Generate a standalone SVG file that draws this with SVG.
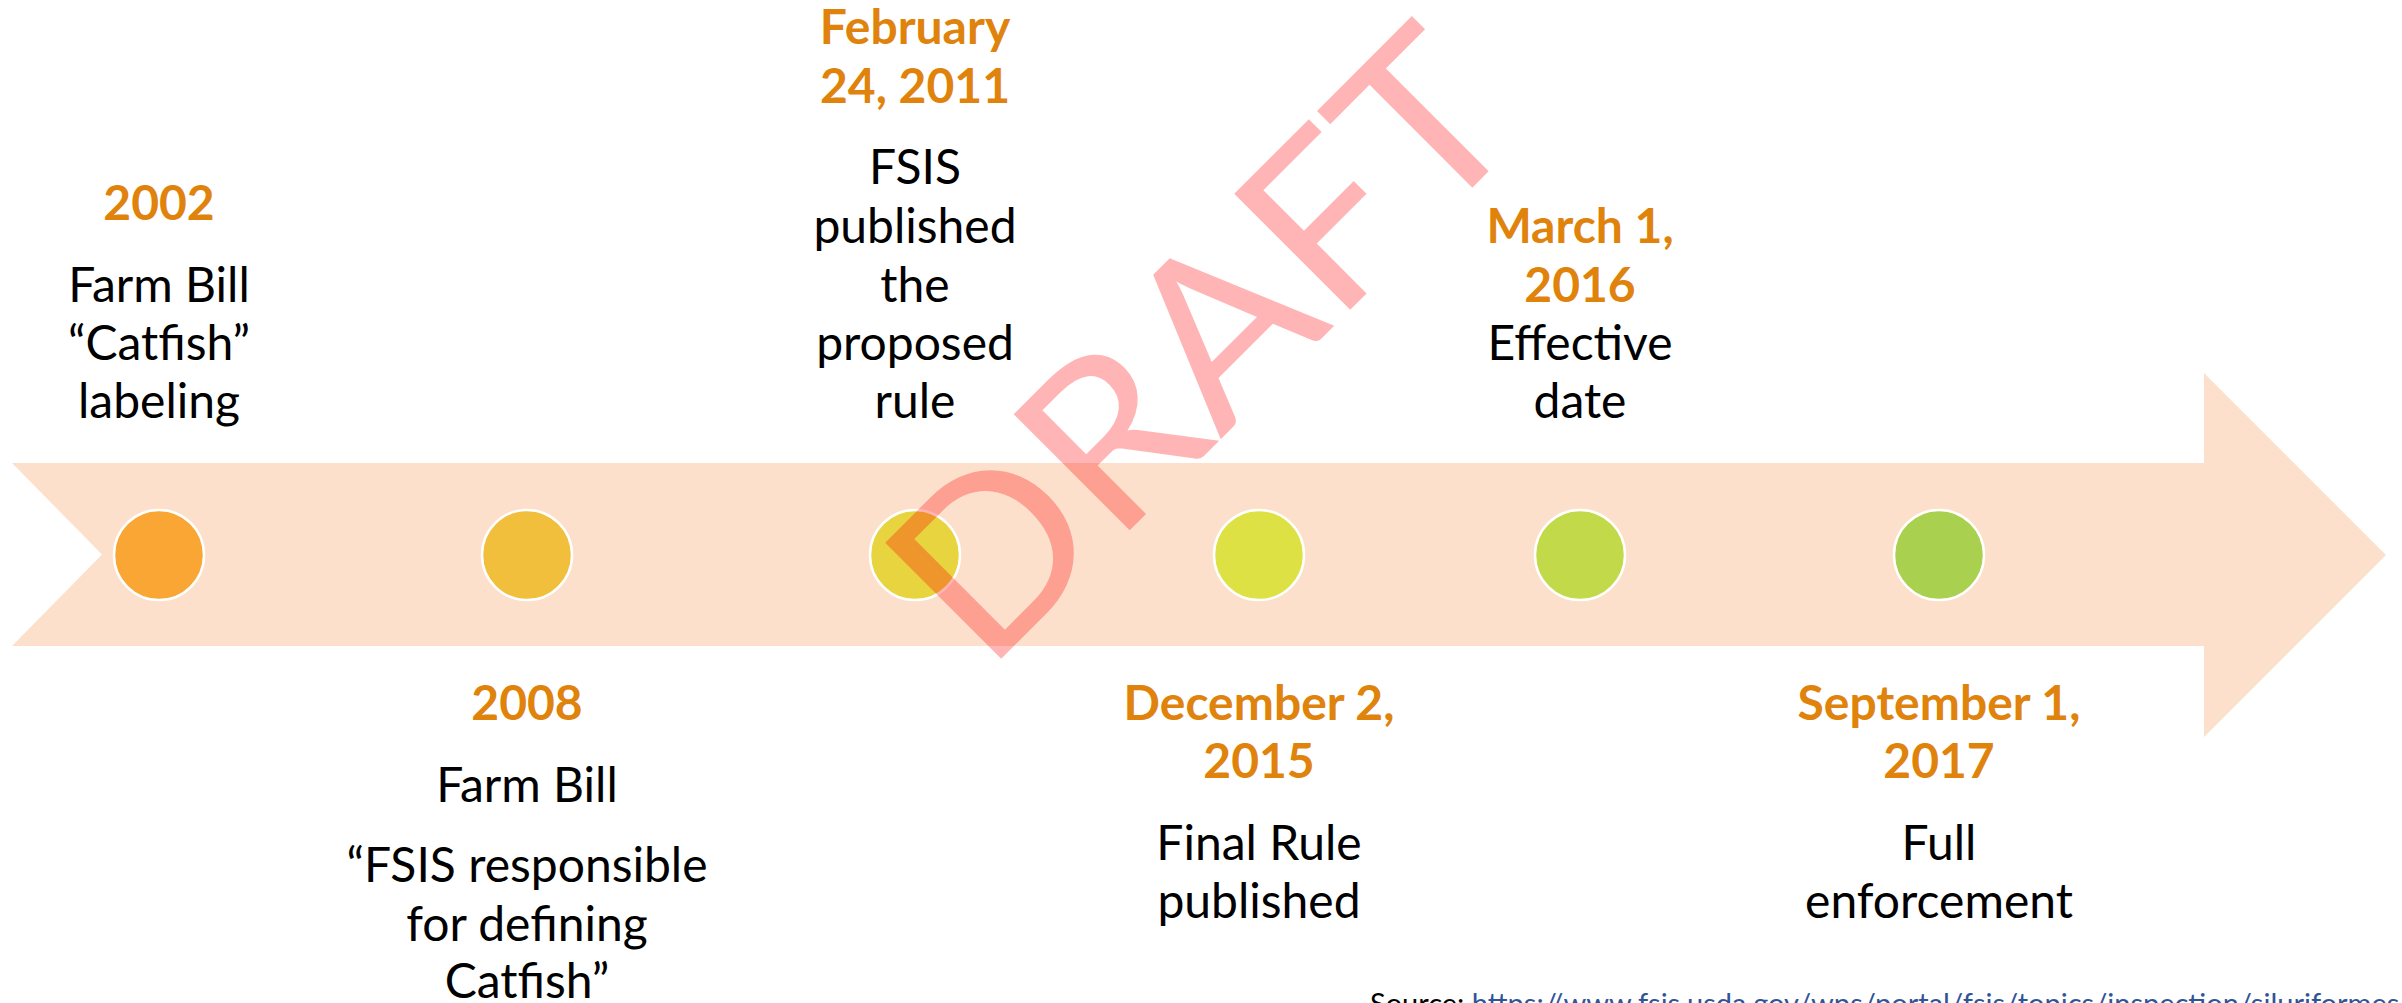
<svg xmlns="http://www.w3.org/2000/svg" width="2402" height="1003" viewBox="0 0 2402 1003">
<style>
.t{font-family:Lato,"Liberation Sans",sans-serif;font-size:48px;text-anchor:middle;fill:#000}
.d{font-family:Lato,"Liberation Sans",sans-serif;font-size:48px;font-weight:bold;text-anchor:middle;fill:#E0830D}
.dot{stroke:#FFFFFF;stroke-width:2.5}
.wm{font-family:Lato,"Liberation Sans",sans-serif;font-weight:normal;font-size:229px;text-anchor:middle;fill:#FF0000;fill-opacity:0.29}
.src{font-family:Lato,"Liberation Sans",sans-serif;font-size:29px}
</style>
<rect width="2402" height="1003" fill="#FFFFFF"/>
<g id="timeline">
<polygon points="12,463 2204,463 2204,373 2386,555 2204,737 2204,646 12,646 102,554.5" fill="#FCE0CC"/>
</g>
<g id="connectors"></g>
<g id="node-2002">
<circle class="dot" cx="159" cy="555" r="45" fill="#F9A634"/>
<text class="d" x="159" y="220">2002</text>
<text class="t" x="159" y="302">Farm Bill</text>
<text class="t" x="159" y="360">“Catfish”</text>
<text class="t" x="159" y="418">labeling</text>
</g>
<g id="node-2008">
<circle class="dot" cx="527" cy="555" r="45" fill="#F1BF3B"/>
<text class="d" x="527" y="720">2008</text>
<text class="t" x="527" y="802">Farm Bill</text>
<text class="t" x="527" y="882">“FSIS responsible</text>
<text class="t" x="527" y="941">for defining</text>
<text class="t" x="527" y="998">Catfish”</text>
</g>
<g id="node-2011">
<circle class="dot" cx="915" cy="555" r="45" fill="#E8D43F"/>
<text class="d" x="915" y="44">February</text>
<text class="d" x="915" y="103">24, 2011</text>
<text class="t" x="915" y="184">FSIS</text>
<text class="t" x="915" y="243">published</text>
<text class="t" x="915" y="302">the</text>
<text class="t" x="915" y="360">proposed</text>
<text class="t" x="915" y="418">rule</text>
</g>
<g id="node-2015">
<circle class="dot" cx="1259" cy="555" r="45" fill="#DEE144"/>
<text class="d" x="1259" y="720">December 2,</text>
<text class="d" x="1259" y="778">2015</text>
<text class="t" x="1259" y="860">Final Rule</text>
<text class="t" x="1259" y="918">published</text>
</g>
<g id="node-2016">
<circle class="dot" cx="1580" cy="555" r="45" fill="#C2D94A"/>
<text class="d" x="1580" y="243">March 1,</text>
<text class="d" x="1580" y="302">2016</text>
<text class="t" x="1580" y="360">Effective</text>
<text class="t" x="1580" y="418">date</text>
</g>
<g id="node-2017">
<circle class="dot" cx="1939" cy="555" r="45" fill="#A9D04F"/>
<text class="d" x="1939" y="720">September 1,</text>
<text class="d" x="1939" y="778">2017</text>
<text class="t" x="1939" y="860">Full</text>
<text class="t" x="1939" y="918">enforcement</text>
</g>
<text class="src" x="1370" y="1014"><tspan fill="#000">Source: </tspan><tspan fill="#2F5597" text-decoration="underline">https://www.fsis.usda.gov/wps/portal/fsis/topics/inspection/siluriformes</tspan></text>
<text class="wm" x="1258" y="402" transform="rotate(-45 1258 402)" textLength="770" lengthAdjust="spacingAndGlyphs">DRAFT</text>
</svg>
